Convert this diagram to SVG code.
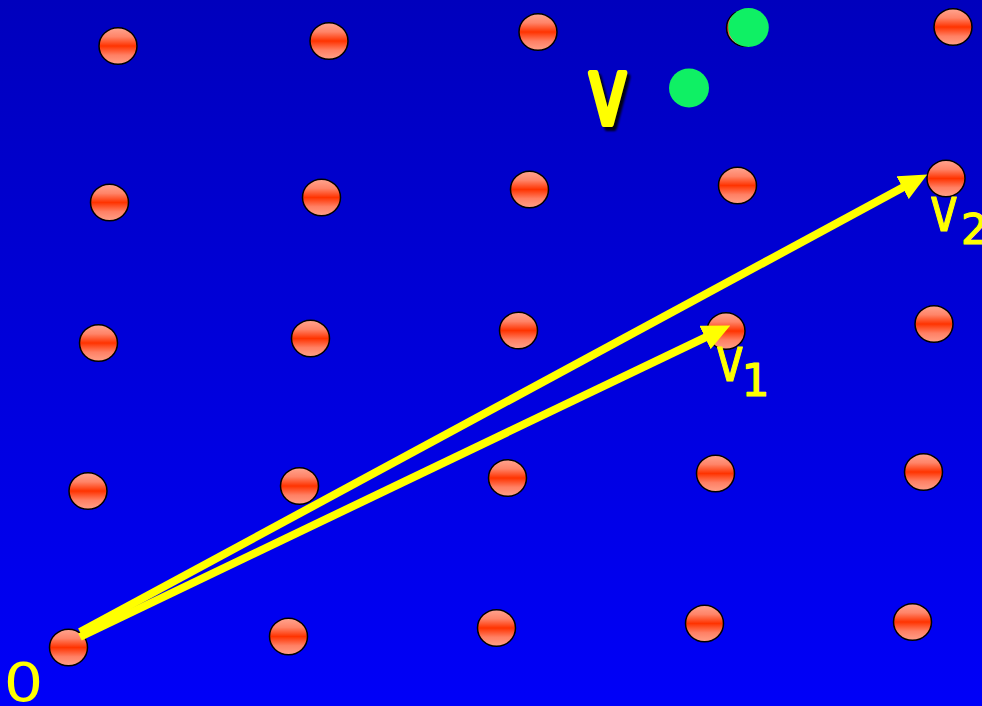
<svg xmlns="http://www.w3.org/2000/svg" width="982" height="706" viewBox="0 0 982 706">
  <defs>
    <linearGradient id="bg" x1="0" y1="0" x2="0" y2="1">
      <stop offset="0" stop-color="#0000bd"/>
      <stop offset="1" stop-color="#0000f8"/>
    </linearGradient>
    <linearGradient id="ball" x1="0" y1="0" x2="0" y2="1">
      <stop offset="0" stop-color="#ffa590"/>
      <stop offset="0.25" stop-color="#ff8468"/>
      <stop offset="0.5" stop-color="#ff3300"/>
      <stop offset="0.75" stop-color="#ff8064"/>
      <stop offset="1" stop-color="#ffa088"/>
    </linearGradient>
    <filter id="soft" x="-20%" y="-20%" width="140%" height="140%">
      <feGaussianBlur stdDeviation="1.2"/>
    </filter>
    <marker id="head" markerUnits="userSpaceOnUse" markerWidth="28" markerHeight="26" viewBox="0 0 26 24" refX="8" refY="12" orient="auto">
      <path d="M0,0 L26,12 L0,24 z" fill="#ffff00"/>
    </marker>
    <style>
      .pt { fill: url(#ball); stroke: #000; stroke-width: 1.5; }
      .gr { fill: #0ff064; }
      .vec { stroke: #ffff00; stroke-width: 8; fill: none; marker-end: url(#head); }
      .lbl { font-family: "DejaVu Sans", "Liberation Sans", sans-serif; fill: #ffff00; stroke-linejoin: round; stroke-linecap: round; }
      .big { stroke: #ffff00; stroke-width: 6; }
      .sm { stroke: #ffff00; stroke-width: 1.2; }
    </style>
  </defs>
  <rect x="0" y="0" width="982" height="706" fill="url(#bg)"/>

  <g id="lattice">
    <ellipse class="pt" cx="118" cy="46" rx="19" ry="18.3"/>
    <ellipse class="pt" cx="329" cy="41" rx="19" ry="18.3"/>
    <ellipse class="pt" cx="538" cy="32" rx="19" ry="18.3"/>
    <ellipse class="pt" cx="745.5" cy="28" rx="19" ry="18.3"/>
    <ellipse class="pt" cx="953" cy="27" rx="19" ry="18.3"/>

    <ellipse class="pt" cx="109.5" cy="202.5" rx="19" ry="18.3"/>
    <ellipse class="pt" cx="321.5" cy="197.5" rx="19" ry="18.3"/>
    <ellipse class="pt" cx="529.5" cy="189.5" rx="19" ry="18.3"/>
    <ellipse class="pt" cx="737.5" cy="185.5" rx="19" ry="18.3"/>
    <ellipse class="pt" cx="946" cy="178.5" rx="19" ry="18.3"/>

    <ellipse class="pt" cx="98.5" cy="343" rx="19" ry="18.3"/>
    <ellipse class="pt" cx="310.5" cy="338.5" rx="19" ry="18.3"/>
    <ellipse class="pt" cx="518.5" cy="330.5" rx="19" ry="18.3"/>
    <ellipse class="pt" cx="726" cy="331" rx="19" ry="18.3"/>
    <ellipse class="pt" cx="934" cy="324" rx="19" ry="18.3"/>

    <ellipse class="pt" cx="88" cy="491" rx="19" ry="18.3"/>
    <ellipse class="pt" cx="299.5" cy="486" rx="19" ry="18.3"/>
    <ellipse class="pt" cx="507.5" cy="478" rx="19" ry="18.3"/>
    <ellipse class="pt" cx="715.5" cy="473.5" rx="19" ry="18.3"/>
    <ellipse class="pt" cx="923.5" cy="472" rx="19" ry="18.3"/>

    <ellipse class="pt" cx="68.5" cy="647.5" rx="19" ry="18.3"/>
    <ellipse class="pt" cx="288.5" cy="636.5" rx="19" ry="18.3"/>
    <ellipse class="pt" cx="496.5" cy="628" rx="19" ry="18.3"/>
    <ellipse class="pt" cx="704.5" cy="623.5" rx="19" ry="18.3"/>
    <ellipse class="pt" cx="912.5" cy="622" rx="19" ry="18.3"/>
  </g>

  <g id="targets">
    <ellipse class="gr" cx="748.5" cy="27.5" rx="20.3" ry="19.5"/>
    <ellipse class="gr" cx="689" cy="88" rx="20" ry="19.5"/>
  </g>

  <g id="connectors">
    <line class="vec" x1="80" y1="632" x2="910.2" y2="183.6"/>
    <line class="vec" x1="80" y1="637" x2="712.8" y2="333.8"/>
  </g>

  <g id="labels">
    <g id="label-v">
      <text class="lbl big" transform="translate(610.5,127.5) scale(0.72,1)" text-anchor="middle" font-size="92" style="fill:#000;stroke:#000" opacity="0.9" filter="url(#soft)">v</text>
      <text class="lbl big" transform="translate(607.5,124) scale(0.72,1)" text-anchor="middle" font-size="92">v</text>
    </g>
    <g id="label-v1">
      <text class="lbl sm" transform="translate(730,381) scale(0.76,1)" text-anchor="middle" font-size="62">v</text>
      <text class="lbl sm" x="755.5" y="396" text-anchor="middle" font-size="44">1</text>
    </g>
    <g id="label-v2">
      <text class="lbl sm" transform="translate(944,231) scale(0.76,1)" text-anchor="middle" font-size="62">v</text>
      <text class="lbl" x="961" y="244" font-size="42" style="stroke:#ffff00;stroke-width:1.2">2</text>
    </g>
    <g id="label-0">
      <text class="lbl" transform="translate(23.5,701) scale(1.15,1)" text-anchor="middle" font-size="54">0</text>
    </g>
  </g>
</svg>
